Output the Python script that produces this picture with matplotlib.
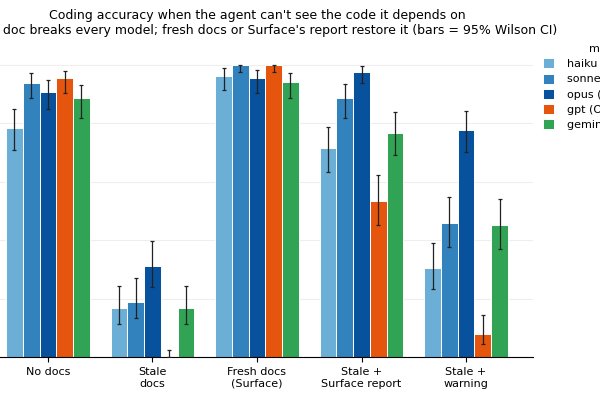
import matplotlib
matplotlib.use("Agg")
import matplotlib.pyplot as plt
import numpy as np

# conditions on the x axis
conditions = ["No docs", "Stale\ndocs", "Fresh docs\n(Surface)", "Stale +\nSurface report", "Stale +\nwarning"]
models = ["haiku (Anthropic)", "sonnet (Anthropic)", "opus (Anthropic)", "gpt (OpenAI)", "gemini (Google)"]
colors = ["#6baed6", "#3182bd", "#08519c", "#e6550d", "#31a354"]

# accuracy per model, one value per condition
haiku = [0.783, 0.167, 0.961, 0.714, 0.305]
sonnet = [0.938, 0.189, 1.000, 0.885, 0.459]
opus = [0.906, 0.313, 0.953, 0.976, 0.776]
gpt = [0.953, 0.000, 1.000, 0.535, 0.081]
gemini = [0.885, 0.167, 0.940, 0.768, 0.451]

# 95% Wilson CI bounds
haiku_lo = [0.707, 0.113, 0.914, 0.632, 0.234]
haiku_hi = [0.848, 0.242, 0.988, 0.787, 0.392]
sonnet_lo = [0.885, 0.133, 0.974, 0.818, 0.378]
sonnet_hi = [0.970, 0.270, 1.000, 0.933, 0.549]
opus_lo = [0.847, 0.241, 0.905, 0.936, 0.700]
opus_hi = [0.948, 0.399, 0.981, 0.996, 0.842]
gpt_lo = [0.905, 0.000, 0.974, 0.451, 0.047]
gpt_hi = [0.979, 0.026, 1.000, 0.623, 0.145]
gemini_lo = [0.818, 0.113, 0.885, 0.690, 0.370]
gemini_hi = [0.931, 0.242, 0.972, 0.837, 0.540]

values = [haiku, sonnet, opus, gpt, gemini]
lows = [haiku_lo, sonnet_lo, opus_lo, gpt_lo, gemini_lo]
highs = [haiku_hi, sonnet_hi, opus_hi, gpt_hi, gemini_hi]

fig = plt.figure(figsize=(6, 4), dpi=100)
ax = fig.add_axes([-0.0317, 0.1068, 0.92, 0.768])

x = np.arange(len(conditions))
w = 0.16
for i, m in enumerate(models):
    v = np.array(values[i])
    err = [v - np.array(lows[i]), np.array(highs[i]) - v]
    ax.bar(x + (i - 2) * w, v, w, color=colors[i], edgecolor="white", linewidth=0.7,
           label=m, zorder=2)
    ax.errorbar(x + (i - 2) * w, v, yerr=err, fmt="none", ecolor="#222222",
                elinewidth=0.9, capsize=1.6, capthick=0.9, zorder=3)

ax.set_xlim(-0.64, 4.64)
ax.set_ylim(0, 1.05)
ax.set_yticks([0, 0.2, 0.4, 0.6, 0.8, 1.0])
ax.set_xticks(x)
ax.set_xticklabels(conditions, fontsize=8)
ax.grid(axis="y", color="#eeeeee", linewidth=0.8, zorder=0)
ax.set_axisbelow(True)
for s in ["top", "right", "left"]:
    ax.spines[s].set_visible(False)
ax.tick_params(axis="x", length=3.5, width=0.8)
ax.tick_params(axis="y", length=0)

ax.set_title("Coding accuracy when the agent can't see the code it depends on\n"
             "A stale doc breaks every model; fresh docs or Surface's report restore it (bars = 95% Wilson CI)",
             fontsize=9, pad=11.5)

fig.legend(loc="upper left", bbox_to_anchor=(0.888, 0.915), frameon=False,
           title="model", fontsize=8, title_fontsize=8,
           handlelength=1.0, handleheight=1.0, labelspacing=0.4, handletextpad=1.15)

plt.savefig("out.png", dpi=100)
